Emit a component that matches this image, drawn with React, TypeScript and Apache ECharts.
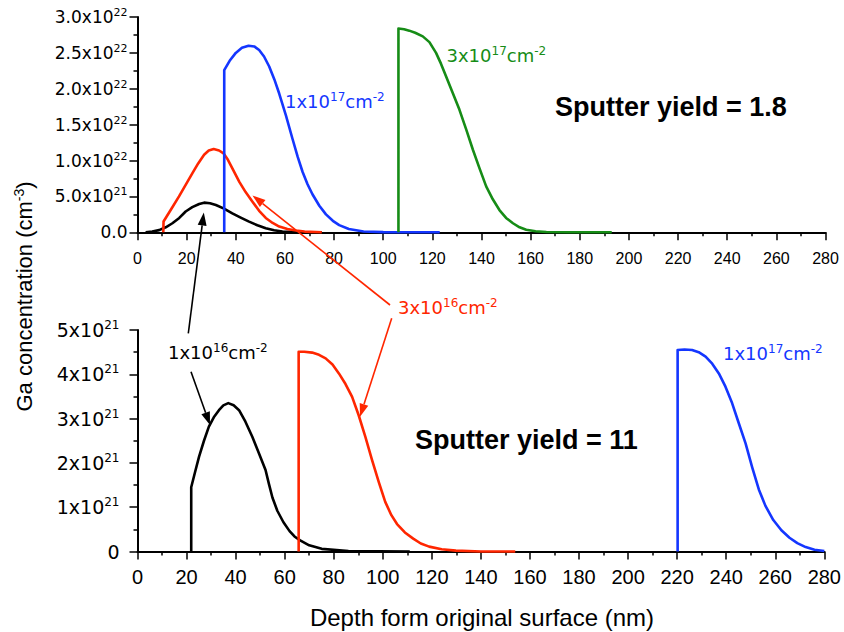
import React, { useEffect, useRef } from 'react';
import * as echarts from 'echarts';

// Depth (nm) vs Ga concentration (units of 1e21 cm^-3)
// Sputter yield = 1.8 (top panel)
const topBlack: number[][] = [
  [3.3, 0], [6, 0.1], [8.8, 0.3], [11.5, 0.7], [14.2, 1.26], [17, 2.0], [19.6, 2.9], [22.3, 3.5],
  [25.1, 3.95], [27.1, 4.13], [29.5, 4.05], [31.9, 3.8], [35.2, 3.3], [38.6, 2.65], [42, 2.05],
  [45.4, 1.48], [48.8, 0.98], [52.2, 0.56], [55.6, 0.28], [59, 0.1], [65, 0.03], [75, 0],
];
const topRed: number[][] = [
  [10.5, 0], [10.6, 1.5], [13.5, 3.1], [16.9, 5.0], [19.6, 6.6], [22.3, 8.2], [24.7, 9.6],
  [27.1, 10.8], [29, 11.4], [31, 11.6], [33.2, 11.4], [35, 11.0], [36.8, 10.1], [38.6, 8.9],
  [41.5, 7.0], [44, 5.6], [46.5, 4.4], [49.5, 3.0], [52.2, 2.0], [55, 1.3], [57.7, 0.8],
  [61, 0.45], [64.5, 0.25], [68, 0.1], [75, 0],
];
const topBlue: number[][] = [
  [35.3, 0], [35.3, 22.6], [37.5, 23.9], [40, 25.0], [42.5, 25.7], [45.2, 26.0], [47.5, 25.9],
  [49.5, 25.4], [51.5, 24.5], [53.6, 23.1], [55.7, 21.3], [57.7, 19.3], [60.4, 16.3], [63.1, 13.0],
  [65.2, 10.5], [67.2, 8.4], [69.2, 6.7], [71.2, 5.3], [74, 3.7], [76.7, 2.5], [79.5, 1.6],
  [82.1, 1.0], [86, 0.45], [92, 0.12], [100, 0.02], [123, 0],
];
const topGreen: number[][] = [
  [106.2, 0], [106.2, 28.4], [108.5, 28.3], [110.6, 28.1], [113, 27.8], [116.1, 27.3], [118.8, 26.5],
  [121.5, 25.0], [123.5, 23.5], [125.6, 21.7], [128.3, 19.4], [131, 17.1], [133.8, 14.3],
  [136.5, 11.5], [139.2, 8.9], [141.9, 6.4], [144.6, 4.6], [147.3, 3.1], [150, 2.0], [152.8, 1.26],
  [155.5, 0.7], [158.2, 0.35], [162, 0.15], [166.4, 0.05], [175, 0.01], [193, 0],
];

// Sputter yield = 11 (bottom panel)
const bottomBlack: number[][] = [
  [21.9, 0], [21.9, 1.45], [23.5, 1.8], [25.1, 2.14], [27.1, 2.5], [29.1, 2.82], [31.1, 3.03],
  [33.2, 3.19], [35, 3.3], [37, 3.35], [39.2, 3.3], [41.4, 3.19], [44, 2.93], [46.8, 2.59],
  [49.5, 2.22], [52.2, 1.84], [53.6, 1.52], [55, 1.22], [57, 0.92], [59.5, 0.66], [62, 0.46],
  [64, 0.34], [66.3, 0.25], [70, 0.14], [75.1, 0.06], [86, 0.01], [111, 0],
];
const bottomRed: number[][] = [
  [65.7, 0], [65.7, 4.51], [68, 4.51], [71.2, 4.49], [74, 4.44], [76.7, 4.36], [79.5, 4.22],
  [82.1, 4.02], [84.8, 3.78], [87.5, 3.49], [90.2, 3.07], [92.9, 2.59], [95.6, 2.07], [98.4, 1.56],
  [101, 1.12], [103.5, 0.82], [105.8, 0.62], [109, 0.43], [112.4, 0.29], [115.5, 0.18], [118.9, 0.11],
  [124, 0.05], [129.8, 0.02], [140, 0], [154, 0],
];
const bottomBlue: number[][] = [
  [220.2, 0], [220.2, 4.55], [223, 4.56], [226.1, 4.55], [228.8, 4.5], [231.6, 4.4], [234.3, 4.24],
  [237, 4.02], [239.7, 3.72], [242.4, 3.35], [245.1, 2.9], [247.9, 2.44], [250.6, 1.9], [253.3, 1.4],
  [256, 1.03], [259.2, 0.71], [262.5, 0.48], [265.8, 0.31], [269, 0.19], [272.4, 0.1], [276, 0.04],
  [280, 0.01],
];

// Tick labels
const topYMantissa = ['0.0', '5.0', '1.0', '1.5', '2.0', '2.5', '3.0'];
const topYExponent = ['', '21', '22', '22', '22', '22', '22'];
const bottomYMantissa = ['0', '1', '2', '3', '4', '5'];
const bottomYExponent = ['', '21', '21', '21', '21', '21'];

const BLUE = '#1436ff';
const RED = '#ff2600';
const GREEN = '#168c16';

function arrow(x1: number, y1: number, x2: number, y2: number, color: string) {
  const dx = x2 - x1, dy = y2 - y1;
  const len = Math.sqrt(dx * dx + dy * dy);
  const ux = dx / len, uy = dy / len;
  const hl = 13, hw = 4.5;
  const bx = x2 - ux * hl, by = y2 - uy * hl;
  return [
    { type: 'line', shape: { x1, y1, x2: bx, y2: by }, style: { stroke: color, lineWidth: 1.6 }, z: 100 },
    {
      type: 'polygon',
      shape: { points: [[x2, y2], [bx - uy * hw, by + ux * hw], [bx + uy * hw, by - ux * hw]] },
      style: { fill: color }, z: 100,
    },
  ];
}

function supLabel(main: string, sup: string, main2: string, sup2: string, x: number, y: number, color: string) {
  return {
    type: 'text', x, y, z: 100,
    style: {
      text: `{m|${main}}{s|${sup}}{m|${main2}}{s|${sup2}}`,
      align: 'left', verticalAlign: 'middle', fill: color,
      rich: {
        m: { fontFamily: 'DejaVu Sans', fontSize: 18, lineHeight: 21, fill: color },
        s: { fontFamily: 'DejaVu Sans', fontSize: 12, lineHeight: 13, verticalAlign: 'top', fill: color },
      },
    },
  };
}

export default function App() {
  const ref = useRef<HTMLDivElement>(null);
  useEffect(() => {
    if (!ref.current) return;
    const chart = echarts.init(ref.current, undefined, { renderer: 'svg' });
    const axisLineStyle = { color: '#000', width: 2 };
    const tickStyle = { color: '#000', width: 1.5 };
    const mkX = (gi: number) => ({
      gridIndex: gi, type: 'value', min: 0, max: 280, interval: 20,
      axisLine: { show: true, onZero: false, lineStyle: axisLineStyle },
      axisTick: { show: true, length: 8, lineStyle: tickStyle },
      minorTick: { show: true, splitNumber: 2, length: 4, lineStyle: tickStyle },
      splitLine: { show: false },
      axisLabel: gi === 0
        ? { color: '#000', fontFamily: 'Liberation Sans', fontSize: 16, margin: 18 }
        : { color: '#000', fontFamily: 'Liberation Sans', fontSize: 20, margin: 15 },
    });
    const supRich = (mainSize: number, supSize: number) => ({
      m: { fontFamily: 'DejaVu Sans', fontSize: mainSize, lineHeight: mainSize + 3, color: '#000' },
      s: { fontFamily: 'DejaVu Sans', fontSize: supSize, lineHeight: supSize + 1, verticalAlign: 'top', color: '#000' },
    });
    const option: any = {
      animation: false,
      grid: [
        { left: 137.5, top: 17, right: 18.5, height: 215.3 },
        { left: 137.5, top: 330, right: 18.5, height: 221.5 },
      ],
      xAxis: [mkX(0), mkX(1)],
      yAxis: [
        {
          gridIndex: 0, type: 'value', min: 0, max: 30, interval: 5,
          axisLine: { show: true, lineStyle: axisLineStyle },
          axisTick: { show: true, length: 8, lineStyle: tickStyle },
          minorTick: { show: true, splitNumber: 2, length: 4, lineStyle: tickStyle },
          splitLine: { show: false },
          axisLabel: {
            margin: 10,
            formatter: (v: number) => {
              const i = Math.round(v / 5);
              return topYExponent[i] ? `{m|${topYMantissa[i]}x10}{s|${topYExponent[i]}}` : `{m|${topYMantissa[i]}}`;
            },
            rich: supRich(17, 11),
          },
        },
        {
          gridIndex: 1, type: 'value', min: 0, max: 5, interval: 1,
          axisLine: { show: true, lineStyle: axisLineStyle },
          axisTick: { show: true, length: 8, lineStyle: tickStyle },
          minorTick: { show: true, splitNumber: 2, length: 4, lineStyle: tickStyle },
          splitLine: { show: false },
          axisLabel: {
            margin: 18,
            formatter: (v: number) => {
              const i = Math.round(v);
              return bottomYExponent[i] ? `{m|${bottomYMantissa[i]}x10}{s|${bottomYExponent[i]}}` : `{m|${bottomYMantissa[i]}}`;
            },
            rich: supRich(19, 12),
          },
        },
      ],
      series: [
        { data: topBlack, color: '#000', xAxisIndex: 0, yAxisIndex: 0 },
        { data: topRed, color: RED, xAxisIndex: 0, yAxisIndex: 0 },
        { data: topBlue, color: BLUE, xAxisIndex: 0, yAxisIndex: 0 },
        { data: topGreen, color: GREEN, xAxisIndex: 0, yAxisIndex: 0 },
        { data: bottomBlack, color: '#000', xAxisIndex: 1, yAxisIndex: 1 },
        { data: bottomRed, color: RED, xAxisIndex: 1, yAxisIndex: 1 },
        { data: bottomBlue, color: BLUE, xAxisIndex: 1, yAxisIndex: 1 },
      ].map((s) => ({
        type: 'line', showSymbol: false, symbol: 'none', clip: false, smooth: false,
        lineStyle: { width: 2.6, color: s.color, join: 'round' }, ...s,
      })),
      graphic: [
        supLabel('1x10', '17', 'cm', '-2', 285, 101.5, BLUE),
        supLabel('3x10', '17', 'cm', '-2', 446.5, 55.5, GREEN),
        supLabel('1x10', '17', 'cm', '-2', 723, 353, BLUE),
        supLabel('3x10', '16', 'cm', '-2', 398, 307.5, RED),
        supLabel('1x10', '16', 'cm', '-2', 168, 352.5, '#000'),
        {
          type: 'text', x: 555, y: 107, z: 100,
          style: { text: 'Sputter yield = 1.8', font: 'bold 27px "Liberation Sans"', fill: '#000', align: 'left', verticalAlign: 'middle' },
        },
        {
          type: 'text', x: 415, y: 440, z: 100,
          style: { text: 'Sputter yield = 11', font: 'bold 27px "Liberation Sans"', fill: '#000', align: 'left', verticalAlign: 'middle' },
        },
        {
          type: 'text', x: 482, y: 617, z: 100,
          style: { text: 'Depth form original surface (nm)', font: '24px "Liberation Sans"', fill: '#000', align: 'center', verticalAlign: 'middle' },
        },
        {
          type: 'text', x: 24, y: 296.5, rotation: Math.PI / 2, z: 100,
          style: {
            text: '{m|Ga concentration (cm}{s|-3}{m|)}', align: 'center', verticalAlign: 'middle',
            rich: {
              m: { fontFamily: 'Liberation Sans', fontSize: 22, lineHeight: 25, fill: '#000' },
              s: { fontFamily: 'Liberation Sans', fontSize: 14, lineHeight: 15, verticalAlign: 'top', fill: '#000' },
            },
          },
        },
        ...arrow(188.3, 333.3, 203.8, 212.5, '#000'),
        ...arrow(191, 371.7, 210, 425, '#000'),
        ...arrow(390, 305, 252.5, 195.5, RED),
        ...arrow(391.7, 318.3, 360, 416.7, RED),
      ],
    };
    chart.setOption(option);
    return () => chart.dispose();
  }, []);
  return <div ref={ref} style={{ position: 'fixed', left: 0, top: 0, width: 844, height: 632, background: '#fff' }} />;
}
